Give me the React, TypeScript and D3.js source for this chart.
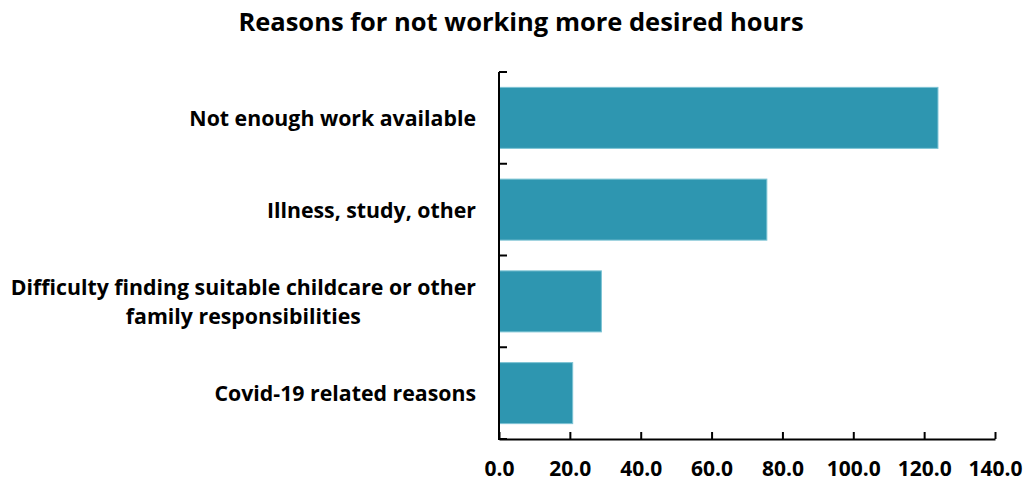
import React, { useEffect, useRef } from "react";
import * as d3 from "d3";

const categories = [
  "Not enough work available",
  "Illness, study, other",
  "Difficulty finding suitable childcare or other\nfamily responsibilities",
  "Covid-19 related reasons",
];
const values = [123.9, 75.6, 28.9, 20.8];
const xTicks = [0, 20, 40, 60, 80, 100, 120, 140];
const title = "Reasons for not working more desired hours";

const W = 1027;
const H = 481;
const FONT = "'Open Sans', sans-serif";
const LABEL_SIZE = 21.3;

export default function App() {
  const ref = useRef<SVGSVGElement>(null);

  useEffect(() => {
    const svg = d3.select(ref.current);
    svg.selectAll("*").remove();

    const x = d3.scaleLinear().domain([0, 140]).range([499, 995]);
    const y = d3
      .scaleBand()
      .domain(categories)
      .range([72, 439])
      .paddingInner(0.335)
      .paddingOuter(0.1675);

    svg
      .append("text")
      .attr("x", 521)
      .attr("y", 31)
      .attr("text-anchor", "middle")
      .attr("font-family", FONT)
      .attr("font-weight", 700)
      .attr("font-size", 25.5)
      .attr("fill", "#000")
      .text(title);

    // bars
    svg
      .append("g")
      .selectAll("rect")
      .data(categories)
      .join("rect")
      .attr("x", x(0))
      .attr("y", (d) => y(d)!)
      .attr("width", (d, i) => x(values[i]) - x(0))
      .attr("height", y.bandwidth())
      .attr("fill", "#2E96B0")
      .attr("stroke", "#7CC3D4")
      .attr("stroke-width", 1);

    // x axis
    const gx = svg
      .append("g")
      .attr("transform", `translate(0,439)`)
      .call(
        d3
          .axisBottom(x)
          .tickValues(xTicks)
          .tickSizeInner(-7)
          .tickSizeOuter(0)
          .tickFormat((d) => d3.format(".1f")(d as number))
      );
    gx.select(".domain").attr("stroke", "#000").attr("stroke-width", 2);
    gx.selectAll(".tick line").attr("stroke", "#000").attr("stroke-width", 2);
    gx.selectAll(".tick text")
      .attr("y", 37)
      .attr("dy", 0)
      .attr("font-family", FONT)
      .attr("font-weight", 700)
      .attr("font-size", 21)
      .attr("fill", "#000");

    // y axis line with band-boundary ticks
    const gy = svg.append("g");
    gy.append("line")
      .attr("x1", 499)
      .attr("x2", 499)
      .attr("y1", 72)
      .attr("y2", 440)
      .attr("stroke", "#000")
      .attr("stroke-width", 2);
    const bounds = [72, ...categories.map((c) => y(c)! - (y.step() * y.paddingInner()) / 2 + y.step())];
    gy.selectAll("line.t")
      .data(bounds)
      .join("line")
      .attr("class", "t")
      .attr("x1", 499)
      .attr("x2", 507)
      .attr("y1", (d) => d)
      .attr("y2", (d) => d)
      .attr("stroke", "#000")
      .attr("stroke-width", 2);

    // category labels
    const lg = svg.append("g");
    categories.forEach((c) => {
      const lines = c.split("\n");
      const cy = y(c)! + y.bandwidth() / 2;
      const lh = 29;
      const t = lg
        .append("text")
        .attr("font-family", FONT)
        .attr("font-weight", 700)
        .attr("font-size", LABEL_SIZE)
        .attr("fill", "#000");
      if (lines.length === 1) {
        t.attr("x", 476).attr("y", cy + 8).attr("text-anchor", "end").text(c);
      } else {
        const tmp = lg
          .append("text")
          .attr("font-family", FONT)
          .attr("font-weight", 700)
          .attr("font-size", LABEL_SIZE)
          .text(lines[0]);
        const w = (tmp.node() as SVGTextElement).getComputedTextLength();
        tmp.remove();
        const center = 476 - w / 2;
        t.attr("text-anchor", "middle");
        lines.forEach((ln, i) => {
          t.append("tspan")
            .attr("x", center)
            .attr("y", cy + 8 + (i - (lines.length - 1) / 2) * lh)
            .text(ln);
        });
      }
    });
  }, []);

  return (
    <svg
      ref={ref}
      width={W}
      height={H}
      style={{ position: "absolute", left: 0, top: 0, background: "#fff" }}
    />
  );
}
